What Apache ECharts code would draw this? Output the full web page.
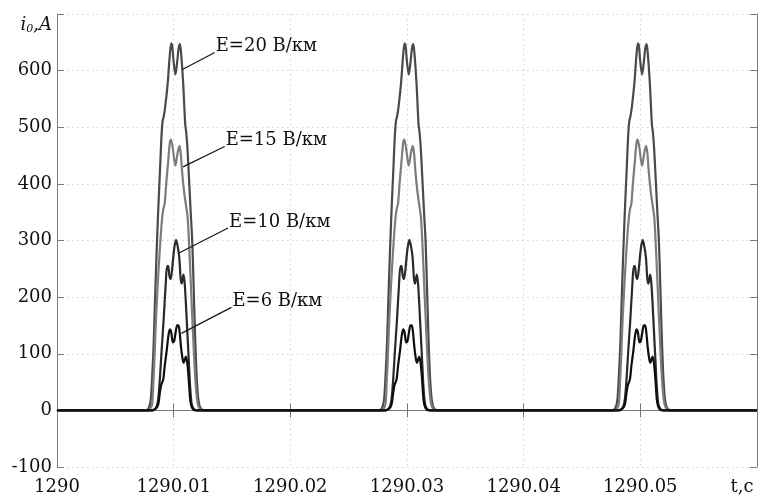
<!DOCTYPE html>
<html>
<head>
<meta charset="utf-8">
<script src="https://cdn.jsdelivr.net/npm/echarts@6/dist/echarts.min.js"></script>
<style>
  html, body { margin: 0; padding: 0; background: #fff; }
  #chart { width: 758px; height: 497px; }
</style>
</head>
<body>
<div id="chart"></div>
<script>
// Zero-sequence current pulses i0(t) for four field strengths E.
// Each pulse is listed as time offsets (ms) from the pulse centre and current values (A).
const pulseCenters = [1290.01, 1290.03, 1290.05];

const offsetsE20 = [-2.40, -2.14, -1.97, -1.84, -1.71, -1.59, -1.46, -1.33, -1.16, -1.03, -0.94, -0.86, -0.73, -0.51, -0.34, -0.21, -0.13, 0, 0.15, 0.30, 0.43, 0.54, 0.64, 0.81, 0.99, 1.07, 1.16, 1.29, 1.46, 1.59, 1.71, 1.84, 1.97, 2.10, 2.23, 2.40, 2.66];
const valuesE20  = [0, 4, 18, 60, 120, 200, 280, 350, 430, 490, 512, 518, 535, 578, 625, 648, 645, 615, 593, 615, 640, 647, 630, 580, 505, 492, 470, 420, 350, 300, 220, 130, 60, 22, 7, 2, 0];

const offsetsE15 = [-2.23, -2.01, -1.84, -1.74, -1.65, -1.54, -1.37, -1.20, -1.03, -0.90, -0.77, -0.64, -0.47, -0.33, -0.23, -0.09, 0.15, 0.34, 0.49, 0.60, 0.73, 0.90, 1.07, 1.20, 1.33, 1.50, 1.67, 1.80, 1.93, 2.06, 2.23, 2.49];
const valuesE15  = [0, 3, 12, 50, 90, 150, 220, 280, 330, 354, 365, 400, 440, 472, 478, 465, 432, 455, 467, 455, 420, 385, 360, 340, 290, 210, 130, 75, 35, 12, 3, 0];

const offsetsE10 = [-1.93, -1.63, -1.46, -1.33, -1.20, -1.05, -0.86, -0.69, -0.56, -0.47, -0.37, -0.26, -0.13, 0.04, 0.20, 0.34, 0.48, 0.60, 0.69, 0.84, 0.93, 1.03, 1.16, 1.29, 1.41, 1.54, 1.71, 1.97];
const valuesE10  = [0, 2, 7, 19, 50, 100, 160, 220, 255, 255, 238, 232, 250, 285, 301, 290, 270, 232, 224, 240, 228, 196, 143, 90, 42, 12, 3, 0];

const offsetsE6 = [-1.80, -1.59, -1.41, -1.29, -1.18, -1.07, -0.97, -0.88, -0.77, -0.60, -0.45, -0.33, -0.21, -0.07, 0.04, 0.17, 0.30, 0.41, 0.51, 0.64, 0.77, 0.86, 0.96, 1.05, 1.16, 1.25, 1.34, 1.42, 1.54, 1.71, 1.89];
const valuesE6  = [0, 2, 6, 14, 32, 45, 50, 56, 78, 105, 132, 143, 138, 120, 122, 138, 150, 150, 138, 110, 90, 84, 90, 95, 85, 66, 40, 18, 6, 1, 0];

const seriesNames  = ['E=20 В/км', 'E=15 В/км', 'E=10 В/км', 'E=6 В/км'];
const seriesColors = ['#4a4a4a', '#7c7c7c', '#2a2a2a', '#0e0e0e'];

// Callout anchors in data units: [t, i0] where the leader touches the curve,
// and [t, i0] where the leader meets the caption.
const calloutTips  = [[1290.01075, 602], [1290.01080, 430], [1290.01046, 278], [1290.01066, 136]];
const calloutTails = [[1290.01352, 632], [1290.01437, 466], [1290.01466, 322], [1290.01495, 182]];

const xMin = 1290, xMax = 1290.06, xStep = 0.01;
const yMin = -100, yMax = 700, yStep = 100;

function buildPulseTrain(offsets, values) {
  const pts = [[xMin, 0]];
  pulseCenters.forEach(c => {
    offsets.forEach((o, i) => pts.push([c + o / 1000, values[i]]));
  });
  pts.push([xMax, 0]);
  return pts;
}

const FONT = 'DejaVu Serif';
const chart = echarts.init(document.getElementById('chart'), null, { renderer: 'canvas' });

const gridLine = { show: true, lineStyle: { color: '#d4d4d4', width: 1, type: [1.5, 3.5] } };
const axisLine = { show: true, lineStyle: { color: '#7a7a7a', width: 1 } };
const innerTick = { show: true, inside: true, length: 7, lineStyle: { color: '#7a7a7a', width: 1 } };

chart.setOption({
  backgroundColor: '#ffffff',
  animation: false,
  grid: { left: 57, right: 1, top: 14, bottom: 30, containLabel: false, outerBoundsMode: 'none' },
  xAxis: [{
    type: 'value', min: xMin, max: xMax, interval: xStep,
    axisLine, axisTick: innerTick, splitLine: gridLine,
    axisLabel: {
      margin: 11, color: '#111', fontFamily: FONT, fontSize: 18,
      formatter: v => Math.abs(v - xMax) < 1e-6 ? '{tc|t,c}' : String(Number(v.toFixed(2))),
      rich: { tc: { fontFamily: FONT, fontSize: 18, color: '#111', padding: [0, 30, 0, 0] } }
    }
  }, {
    type: 'value', position: 'top', min: xMin, max: xMax, interval: xStep,
    axisLine, axisTick: innerTick, axisLabel: { show: false }, splitLine: { show: false }
  }],
  yAxis: [{
    type: 'value', min: yMin, max: yMax, interval: yStep,
    axisLine, axisTick: innerTick, splitLine: gridLine,
    axisLabel: {
      margin: 5, color: '#111', fontFamily: FONT, fontSize: 18,
      formatter: v => v === yMax ? '{it|i}{sub|0}{it|,A}' : String(v),
      rich: {
        it: { fontFamily: FONT, fontStyle: 'italic', fontSize: 18, color: '#111', padding: [22, 0, 0, 0] },
        sub: { fontFamily: FONT, fontStyle: 'italic', fontSize: 11, color: '#111', padding: [30, 0, 0, 0] }
      }
    }
  }, {
    type: 'value', position: 'right', min: yMin, max: yMax, interval: yStep,
    axisLine, axisTick: innerTick, axisLabel: { show: false }, splitLine: { show: false }
  }],
  series: [
    [offsetsE20, valuesE20], [offsetsE15, valuesE15], [offsetsE10, valuesE10], [offsetsE6, valuesE6]
  ].map(([o, v], k) => ({
    type: 'line', name: seriesNames[k], xAxisIndex: 0, yAxisIndex: 0,
    data: buildPulseTrain(o, v),
    showSymbol: false, smooth: 0.3,
    lineStyle: { color: seriesColors[k], width: 2.2 },
    z: 2 + k
  }))
});

// Captions with leader lines, placed from data coordinates.
const callouts = [];
seriesNames.forEach((name, k) => {
  const tip = chart.convertToPixel({ gridIndex: 0 }, calloutTips[k]);
  const tail = chart.convertToPixel({ gridIndex: 0 }, calloutTails[k]);
  callouts.push({
    type: 'line', z: 10,
    shape: { x1: tail[0], y1: tail[1], x2: tip[0], y2: tip[1] },
    style: { stroke: '#1a1a1a', lineWidth: 1.3 }
  });
  callouts.push({
    type: 'text', z: 10,
    x: tail[0] + 1, y: tail[1] + 3,
    style: { text: name, fill: '#111', font: '18px "' + FONT + '"', align: 'left', verticalAlign: 'bottom' }
  });
});
chart.setOption({ graphic: callouts });
</script>
</body>
</html>
